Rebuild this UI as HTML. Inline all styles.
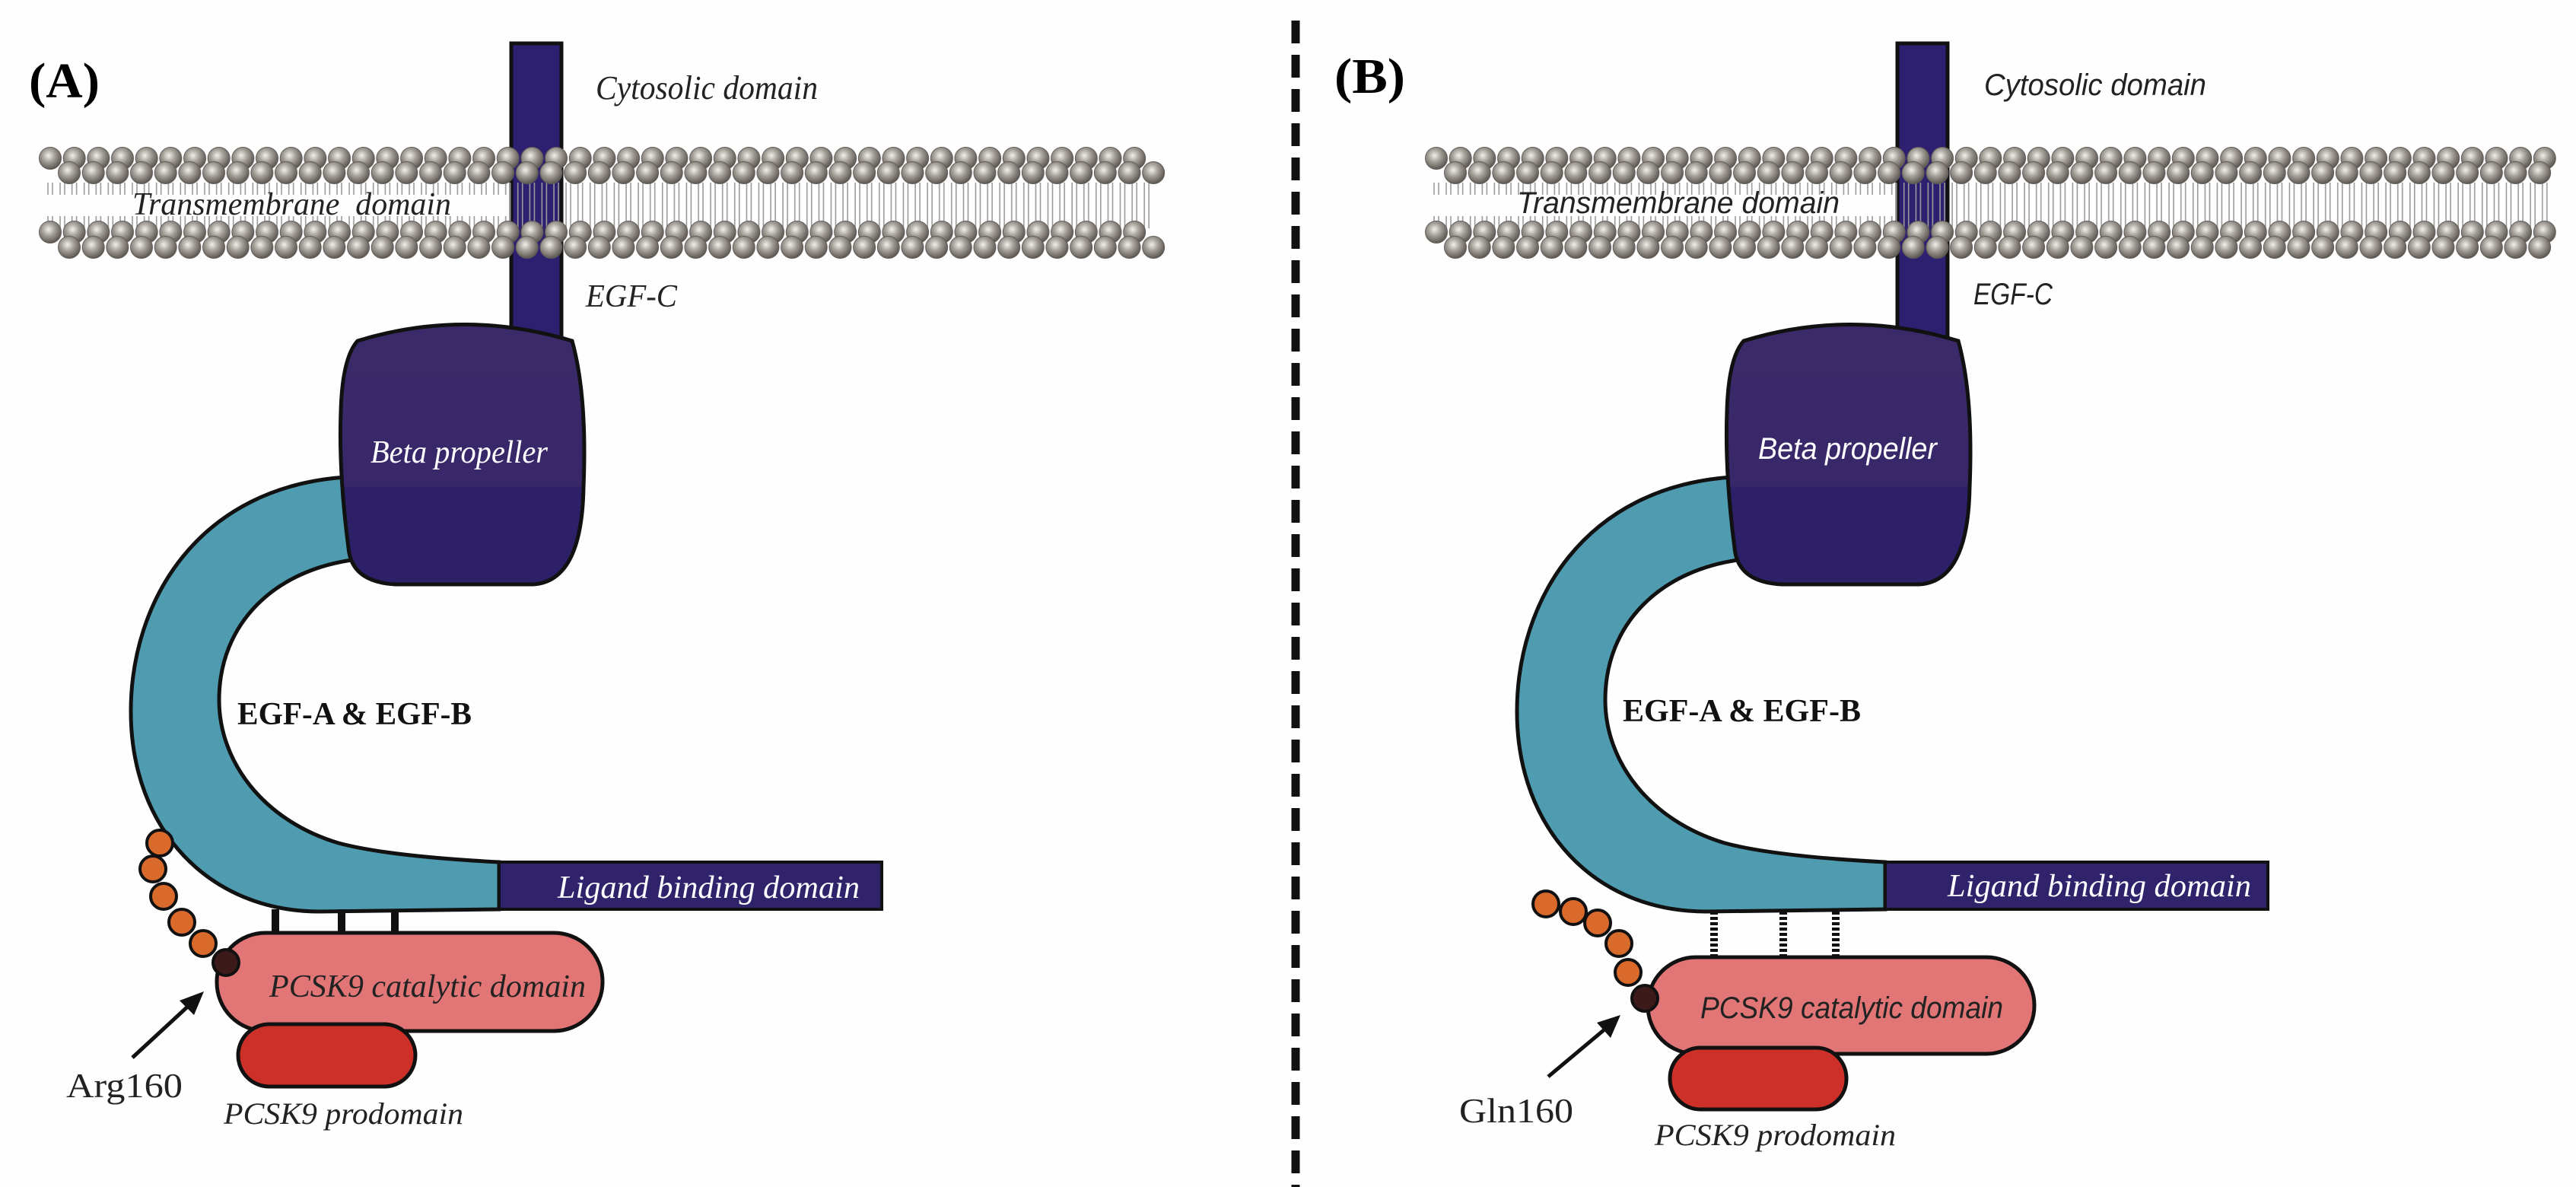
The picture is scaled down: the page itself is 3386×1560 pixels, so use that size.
<!DOCTYPE html>
<html><head><meta charset="utf-8"><style>
html,body{margin:0;padding:0;background:#fefefe;}
svg{display:block;}
.s{font-family:"Liberation Serif",serif;}
.n{font-family:"Liberation Sans",sans-serif;}
</style></head><body>
<svg width="3386" height="1560" viewBox="0 0 3386 1560" xmlns="http://www.w3.org/2000/svg">
<defs>
<radialGradient id="bg" cx="0.42" cy="0.38" r="0.62">
<stop offset="0" stop-color="#f2f0ec"/><stop offset="0.45" stop-color="#a6a19b"/><stop offset="1" stop-color="#5c5752"/>
</radialGradient>
<pattern id="ball" patternUnits="userSpaceOnUse" x="0" y="0" width="31.67" height="30">
<circle cx="15.83" cy="15" r="14.5" fill="url(#bg)" stroke="#615b56" stroke-width="1"/>
</pattern>
<pattern id="tail" patternUnits="userSpaceOnUse" x="0" y="0" width="31.67" height="100">
<g stroke="#9a9a9a" stroke-width="1.6">
<line x1="3" y1="0" x2="3" y2="100"/><line x1="9" y1="0" x2="9" y2="100"/>
<line x1="19" y1="0" x2="19" y2="100"/><line x1="25" y1="0" x2="25" y2="100"/>
</g>
</pattern>
<linearGradient id="prop" x1="0" y1="0" x2="0" y2="1">
<stop offset="0" stop-color="#3a2a69"/><stop offset="0.62" stop-color="#38286a"/><stop offset="0.63" stop-color="#2e2068"/><stop offset="1" stop-color="#2e2068"/>
</linearGradient>
</defs>

<line x1="1703" y1="27" x2="1703" y2="1560" stroke="#111" stroke-width="11" stroke-dasharray="30 15"/>

<!-- ================= PANEL A ================= -->
<g>
<rect x="672" y="57" width="66" height="420" fill="#2e2070" stroke="#111" stroke-width="5"/>
<g transform="translate(60,240)"><rect x="0" y="0" width="608" height="16" fill="url(#tail)"/><rect x="0" y="44" width="608" height="16" fill="url(#tail)"/><rect x="608" y="0" width="850" height="60" fill="url(#tail)"/></g>
<g transform="translate(50.17,193)"><rect width="1457" height="30" fill="url(#ball)"/></g>
<g transform="translate(75.17,212)"><rect width="1457" height="30" fill="url(#ball)"/></g>
<g transform="translate(50.17,290)"><rect width="1457" height="30" fill="url(#ball)"/></g>
<g transform="translate(75.17,310)"><rect width="1457" height="30" fill="url(#ball)"/></g>
<path d="M 455 627 C 260 640 172 790 172 935 C 172 1090 275 1198 420 1198 L 656 1195 L 656 1133 C 560 1128 490 1120 445 1108 C 345 1078 288 1000 288 920 C 288 820 360 748 470 735 Z" fill="#4f9cb0" stroke="#111" stroke-width="5"/>
<path d="M 470 448 Q 610 405 752 448 Q 772 520 767 640 Q 765 765 700 768 L 520 768 Q 462 765 458 720 Q 445 620 448 540 Q 450 470 470 448 Z" fill="url(#prop)" stroke="#111" stroke-width="5"/>
<rect x="656" y="1133" width="503" height="62" fill="#30236c" stroke="#111" stroke-width="4"/>
<g stroke="#111" stroke-width="10"><line x1="362" y1="1195" x2="362" y2="1230"/><line x1="449" y1="1195" x2="449" y2="1230"/><line x1="519" y1="1195" x2="519" y2="1230"/></g>
<rect x="285" y="1226" width="507" height="129" rx="64" fill="#e27676" stroke="#111" stroke-width="5"/>
<rect x="313" y="1346" width="233" height="82" rx="41" fill="#cd3029" stroke="#111" stroke-width="5"/>
<g fill="#d96a2b" stroke="#111" stroke-width="4">
<circle cx="210" cy="1108" r="17"/><circle cx="201" cy="1142" r="17"/><circle cx="215" cy="1178" r="17"/><circle cx="239" cy="1212" r="17"/><circle cx="267" cy="1240" r="17"/>
</g>
<circle cx="297" cy="1265" r="17" fill="#3d1a1a" stroke="#111" stroke-width="4"/>
<line x1="174" y1="1390" x2="252" y2="1318" stroke="#111" stroke-width="5"/>
<polygon points="268,1303 236,1315 255,1334" fill="#111"/>
<text class="s" x="38" y="128" font-size="66" font-weight="bold" textLength="93" lengthAdjust="spacingAndGlyphs">(A)</text>
<text class="s" x="783" y="130" font-size="44" font-style="italic" textLength="292" lengthAdjust="spacingAndGlyphs" fill="#222">Cytosolic domain</text>
<text class="s" x="174" y="282" font-size="42" font-style="italic" textLength="419" lengthAdjust="spacingAndGlyphs" fill="#222" xml:space="preserve">Transmembrane  domain</text>
<text class="s" x="770" y="403" font-size="42" font-style="italic" textLength="120" lengthAdjust="spacingAndGlyphs" fill="#222">EGF-C</text>
<text class="s" x="487" y="608" font-size="42" font-style="italic" textLength="233" lengthAdjust="spacingAndGlyphs" fill="#fff">Beta propeller</text>
<text class="s" x="312" y="952" font-size="42" font-weight="bold" textLength="308" lengthAdjust="spacingAndGlyphs" fill="#111">EGF-A &amp; EGF-B</text>
<text class="s" x="733" y="1180" font-size="42" font-style="italic" textLength="397" lengthAdjust="spacingAndGlyphs" fill="#fff">Ligand binding domain</text>
<text class="s" x="354" y="1310" font-size="42" font-style="italic" textLength="416" lengthAdjust="spacingAndGlyphs" fill="#222">PCSK9 catalytic domain</text>
<text class="s" x="87" y="1442" font-size="46" textLength="153" lengthAdjust="spacingAndGlyphs" fill="#222">Arg160</text>
<text class="s" x="294" y="1477" font-size="40" font-style="italic" textLength="315" lengthAdjust="spacingAndGlyphs" fill="#222">PCSK9 prodomain</text>
</g>

<!-- ================= PANEL B ================= -->
<g transform="translate(1822,0)">
<rect x="672" y="57" width="66" height="420" fill="#2e2070" stroke="#111" stroke-width="5"/>
<g transform="translate(60,240)"><rect x="0" y="0" width="608" height="16" fill="url(#tail)"/><rect x="0" y="44" width="608" height="16" fill="url(#tail)"/><rect x="608" y="0" width="864" height="60" fill="url(#tail)"/></g>
<g transform="translate(50.17,193)"><rect width="1488" height="30" fill="url(#ball)"/></g>
<g transform="translate(75.17,212)"><rect width="1457" height="30" fill="url(#ball)"/></g>
<g transform="translate(50.17,290)"><rect width="1488" height="30" fill="url(#ball)"/></g>
<g transform="translate(75.17,310)"><rect width="1457" height="30" fill="url(#ball)"/></g>
<path d="M 455 627 C 260 640 172 790 172 935 C 172 1090 275 1198 420 1198 L 656 1195 L 656 1133 C 560 1128 490 1120 445 1108 C 345 1078 288 1000 288 920 C 288 820 360 748 470 735 Z" fill="#4f9cb0" stroke="#111" stroke-width="5"/>
<path d="M 470 448 Q 610 405 752 448 Q 772 520 767 640 Q 765 765 700 768 L 520 768 Q 462 765 458 720 Q 445 620 448 540 Q 450 470 470 448 Z" fill="url(#prop)" stroke="#111" stroke-width="5"/>
<rect x="656" y="1133" width="503" height="62" fill="#30236c" stroke="#111" stroke-width="4"/>
</g>
<g stroke="#111" stroke-width="10" stroke-dasharray="4 3"><line x1="2253" y1="1198" x2="2253" y2="1260"/><line x1="2344" y1="1198" x2="2344" y2="1260"/><line x1="2413" y1="1198" x2="2413" y2="1260"/></g>
<rect x="2166" y="1258" width="508" height="127" rx="63" fill="#e27676" stroke="#111" stroke-width="5"/>
<rect x="2195" y="1377" width="232" height="81" rx="40" fill="#cd3029" stroke="#111" stroke-width="5"/>
<g fill="#d96a2b" stroke="#111" stroke-width="4">
<circle cx="2032" cy="1188" r="17"/><circle cx="2068" cy="1198" r="17"/><circle cx="2100" cy="1213" r="17"/><circle cx="2128" cy="1240" r="17"/><circle cx="2140" cy="1278" r="17"/>
</g>
<circle cx="2162" cy="1312" r="17" fill="#3d1a1a" stroke="#111" stroke-width="4"/>
<line x1="2035" y1="1415" x2="2115" y2="1348" stroke="#111" stroke-width="5"/>
<polygon points="2130,1334 2099,1344 2117,1364" fill="#111"/>
<text class="s" x="1754" y="122" font-size="66" font-weight="bold" textLength="93" lengthAdjust="spacingAndGlyphs">(B)</text>
<text class="n" x="2608" y="125" font-size="40" font-style="italic" textLength="292" lengthAdjust="spacingAndGlyphs" fill="#222">Cytosolic domain</text>
<text class="n" x="1994" y="280" font-size="40" font-style="italic" textLength="424" lengthAdjust="spacingAndGlyphs" fill="#222">Transmembrane domain</text>
<text class="n" x="2594" y="400" font-size="40" font-style="italic" textLength="104" lengthAdjust="spacingAndGlyphs" fill="#222">EGF-C</text>
<text class="n" x="2311" y="603" font-size="40" font-style="italic" textLength="235" lengthAdjust="spacingAndGlyphs" fill="#fff">Beta propeller</text>
<text class="s" x="2133" y="948" font-size="42" font-weight="bold" textLength="313" lengthAdjust="spacingAndGlyphs" fill="#111">EGF-A &amp; EGF-B</text>
<text class="s" x="2560" y="1178" font-size="42" font-style="italic" textLength="399" lengthAdjust="spacingAndGlyphs" fill="#fff">Ligand binding domain</text>
<text class="n" x="2235" y="1338" font-size="40" font-style="italic" textLength="398" lengthAdjust="spacingAndGlyphs" fill="#222">PCSK9 catalytic domain</text>
<text class="s" x="1918" y="1475" font-size="46" textLength="150" lengthAdjust="spacingAndGlyphs" fill="#222">Gln160</text>
<text class="s" x="2175" y="1505" font-size="40" font-style="italic" textLength="317" lengthAdjust="spacingAndGlyphs" fill="#222">PCSK9 prodomain</text>
</svg>
</body></html>
